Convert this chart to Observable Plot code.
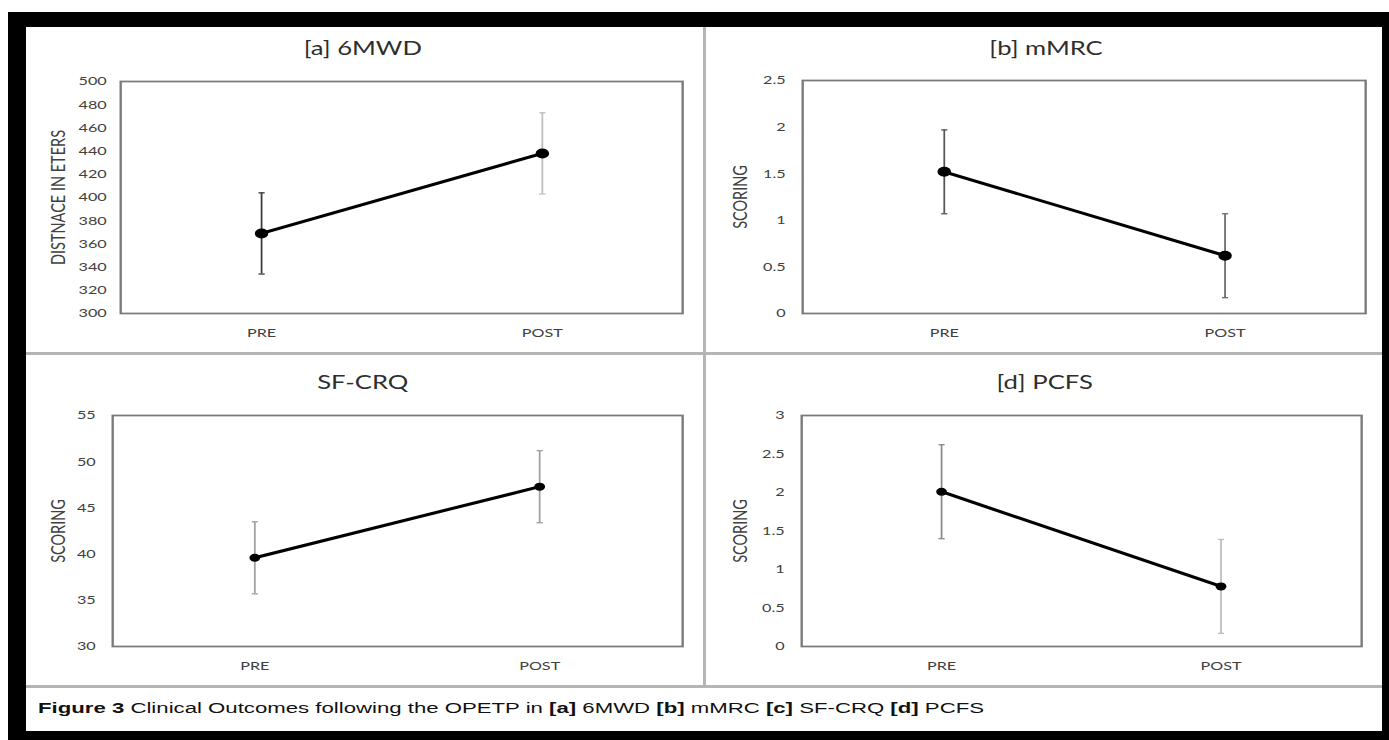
<!DOCTYPE html>
<html>
<head>
<meta charset="utf-8">
<script src="https://cdn.jsdelivr.net/npm/d3@7"></script>
<script src="https://cdn.jsdelivr.net/npm/@observablehq/plot@0.6"></script>
<style>
  html, body { margin: 0; padding: 0; background: #fff; width: 1389px; height: 740px; overflow: hidden; }
  #outer { position: absolute; left: 8px; top: 12px; width: 1381px; height: 728px; background: #000; }
  #inner { position: absolute; left: 26px; top: 27px; width: 1356px; height: 704px; background: #fff; }
  .sep { position: absolute; background: #b5b5b5; }
  .panel { position: absolute; transform-origin: 0 0; }
  .title { position: absolute; font-family: Lato, sans-serif; font-size: 19px; line-height: 20px; color: #2e2e2e; white-space: nowrap; }
  #caption { position: absolute; left: 38px; top: 699px; font-family: "Liberation Sans", Arial, sans-serif; font-size: 15.5px; line-height: 18px; color: #111; white-space: nowrap; transform-origin: 0 50%; }
</style>
</head>
<body>
<div id="outer"></div>
<div id="inner"></div>
<div class="sep" style="left:703px;top:27px;width:3px;height:660px;"></div>
<div class="sep" style="left:26px;top:352px;width:1356px;height:3px;"></div>
<div class="sep" style="left:26px;top:685px;width:1356px;height:3px;"></div>
<div id="root"></div>
<div id="caption"><b>Figure 3</b> Clinical Outcomes following the OPETP in <b>[a]</b> 6MWD <b>[b]</b> mMRC <b>[c]</b> SF-CRQ <b>[d]</b> PCFS</div>
<script>
// ---------- data ----------
const phases = ["PRE", "POST"];

const titles = ["[a] 6MWD", "[b] mMRC", "SF-CRQ", "[d] PCFS"];
const yLabels = ["DISTNACE IN ETERS", "SCORING", "SCORING", "SCORING"];

const mwdMean = [369, 438];
const mwdSD = [35, 35];
const mwdTicks = [300, 320, 340, 360, 380, 400, 420, 440, 460, 480, 500];

const mmrcMean = [1.52, 0.62];
const mmrcSD = [0.45, 0.45];
const mmrcTicks = [0, 0.5, 1, 1.5, 2, 2.5];

const crqMean = [39.6, 47.3];
const crqSD = [3.9, 3.9];
const crqTicks = [30, 35, 40, 45, 50, 55];

const pcfsMean = [2.01, 0.78];
const pcfsSD = [0.61, 0.61];
const pcfsTicks = [0, 0.5, 1, 1.5, 2, 2.5, 3];

// ---------- layout / style ----------
const S = 1.35; // horizontal stretch of the original figure
const panels = [
  {mean: mwdMean, sd: mwdSD, ticks: mwdTicks, title: titles[0], ylabel: yLabels[0],
   box: [26, 704], svgY: [62, 350], frame: [120, 81, 682, 313], tickPad: 14, labOff: 62, r: 5,
   err: ["#3a3a3a", "#bdbdbd"], titleX: 363, titleY: 48},
  {mean: mmrcMean, sd: mmrcSD, ticks: mmrcTicks, title: titles[1], ylabel: yLabels[1],
   box: [706, 1382], svgY: [62, 350], frame: [802, 80, 1365, 313], tickPad: 17, labOff: 62, r: 5,
   err: ["#555555", "#6a6a6a"], titleX: 1046, titleY: 48},
  {mean: crqMean, sd: crqSD, ticks: crqTicks, title: titles[2], ylabel: yLabels[2],
   box: [26, 704], svgY: [396, 685], frame: [112, 415, 682, 646], tickPad: 17, labOff: 54, r: 4,
   err: ["#a0a0a0", "#a0a0a0"], titleX: 363, titleY: 382},
  {mean: pcfsMean, sd: pcfsSD, ticks: pcfsTicks, title: titles[3], ylabel: yLabels[3],
   box: [706, 1382], svgY: [396, 685], frame: [801, 415, 1361, 646], tickPad: 17, labOff: 61, r: 4,
   err: ["#8a8a8a", "#bdbdbd"], titleX: 1045, titleY: 382}
];

// horizontal-line symbol for error-bar caps
const capSymbol = {
  draw(context, size) {
    const w = Math.sqrt(size / Math.PI);
    context.moveTo(-w, 0);
    context.lineTo(w, 0);
  }
};

const root = document.getElementById("root");

for (const p of panels) {
  const data = phases.map((ph, i) => ({phase: ph, mean: p.mean[i], lo: p.mean[i] - p.sd[i], hi: p.mean[i] + p.sd[i]}));
  const [left, right] = p.box;
  const [top, bottom] = p.svgY;
  const chart = Plot.plot({
    width: (right - left) / S,
    height: bottom - top,
    marginLeft: (p.frame[0] - left) / S,
    marginRight: (right - p.frame[2]) / S,
    marginTop: p.frame[1] - top,
    marginBottom: bottom - p.frame[3],
    style: {fontFamily: "Lato, sans-serif", fontSize: "12px", color: "#404040", background: "transparent", overflow: "visible"},
    x: {type: "point", domain: phases, padding: 0.5},
    y: {domain: [p.ticks[0], p.ticks[p.ticks.length - 1]]},
    color: {type: "ordinal", domain: phases, range: p.err},
    marks: [
      Plot.axisY(p.ticks, {tickSize: 0, tickPadding: p.tickPad / S, tickFormat: d => String(d), label: null, fill: "#404040"}),
      Plot.axisX(phases, {tickSize: 0, tickPadding: 15, label: null, fill: "#404040"}),
      Plot.text([p.ylabel], {text: d => d, frameAnchor: "left", textAnchor: "middle", dx: -p.labOff / S, rotate: -90, fontSize: 14.5, fill: "#404040"}),
      Plot.frame({stroke: "#7a7a7a", strokeWidth: 1.75}),
      Plot.ruleX(data, {x: "phase", y1: "lo", y2: "hi", stroke: "phase", strokeWidth: 1.3}),
      Plot.dot(data, {x: "phase", y: "hi", symbol: capSymbol, r: 2.3, fill: "none", stroke: "phase", strokeWidth: 1.3}),
      Plot.dot(data, {x: "phase", y: "lo", symbol: capSymbol, r: 2.3, fill: "none", stroke: "phase", strokeWidth: 1.3}),
      Plot.line(data, {x: "phase", y: "mean", stroke: "#000", strokeWidth: 3}),
      Plot.dot(data, {x: "phase", y: "mean", fill: "#000", r: p.r})
    ]
  });
  const wrap = document.createElement("div");
  wrap.className = "panel";
  wrap.style.left = left + "px";
  wrap.style.top = top + "px";
  wrap.style.transform = `scaleX(${S})`;
  wrap.appendChild(chart);
  root.appendChild(wrap);

  const t = document.createElement("div");
  t.className = "title";
  t.textContent = p.title;
  root.appendChild(t);
  const w = t.getBoundingClientRect().width;
  t.style.left = (p.titleX - w / 2) + "px";
  t.style.top = (p.titleY - 10) + "px";
  t.style.transformOrigin = "50% 50%";
  t.style.transform = `scaleX(${S})`;
}

// fit caption to its width in the figure
const cap = document.getElementById("caption");
const cw = cap.getBoundingClientRect().width;
cap.style.transform = `scaleX(${946 / cw})`;
</script>
</body>
</html>
